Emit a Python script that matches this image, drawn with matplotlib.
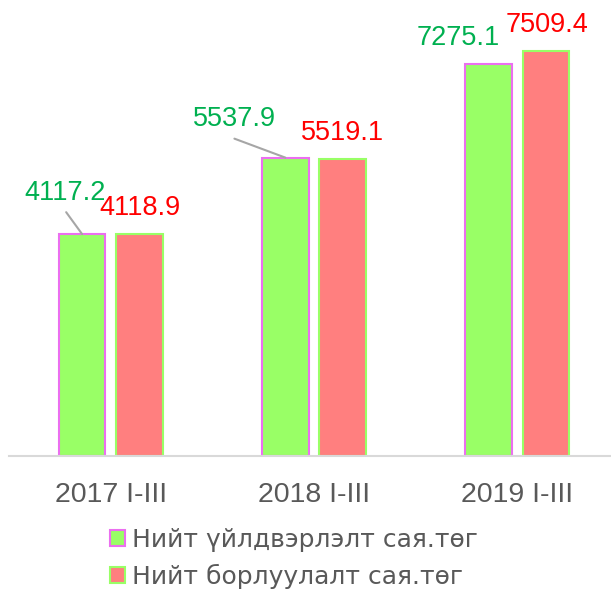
import numpy as np
import matplotlib.pyplot as plt
from matplotlib.patches import Patch

plt.rcParams['font.family'] = ['Liberation Sans', 'DejaVu Sans']

# data
categories = ['2017 I-III', '2018 I-III', '2019 I-III']
production = [4117.2, 5537.9, 7275.1]
sales = [4118.9, 5519.1, 7509.4]
series_names = ['Нийт үйлдвэрлэлт сая.төг', 'Нийт борлуулалт сая.төг']

# label offsets in pixels (dx, dy) from bar top, as Excel left them
prod_off = [(-17, 41), (-51, 39), (-30, 26)]
sales_off = [(0, 26), (0, 26), (1, 26)]
# leader line starts (only where label was dragged away)
leader_off = [(-16, 22), (-51, 19), None]

px = 0.72  # points per pixel at dpi 100

fig = plt.figure(figsize=(6.11, 5.9), dpi=100)
ax = fig.add_axes([9/611, 134/590, 602/611, 431/590])

x = np.arange(len(categories))
w = 0.229
b1 = ax.bar(x - 0.142, production, w, color='#99FF66', edgecolor='#EB6FF0', linewidth=1.5, zorder=2)
b2 = ax.bar(x + 0.14, sales, w, color='#FF7F7F', edgecolor='#99FF66', linewidth=1.5, zorder=2)

for i in range(len(categories)):
    xp = x[i] - 0.142
    ax.annotate(f'{production[i]:.1f}', xy=(xp, production[i]),
                xytext=(prod_off[i][0]*px, prod_off[i][1]*px), textcoords='offset points',
                ha='center', va='center', fontsize=19.5, color='#00B050')
    if leader_off[i] is not None:
        ax.annotate('', xy=(xp, production[i]),
                    xytext=(leader_off[i][0]*px, leader_off[i][1]*px), textcoords='offset points',
                    arrowprops=dict(arrowstyle='-', color='#A6A6A6', lw=1.5, shrinkA=0, shrinkB=0))
    xs = x[i] + 0.14
    ax.annotate(f'{sales[i]:.1f}', xy=(xs, sales[i]),
                xytext=(sales_off[i][0]*px, sales_off[i][1]*px), textcoords='offset points',
                ha='center', va='center', fontsize=19.5, color='#FF0000')

ax.set_xlim(-0.502, 2.46)
ax.set_ylim(0, 8000)
for s in ['top', 'right', 'left']:
    ax.spines[s].set_visible(False)
ax.spines['bottom'].set_color('#D9D9D9')
ax.spines['bottom'].set_linewidth(1.5)
ax.set_yticks([])
ax.set_xticks(x)
ax.set_xticklabels(categories, fontsize=20.5, color='#595959')
ax.tick_params(axis='x', length=0, pad=19)

handles = [Patch(facecolor='#99FF66', edgecolor='#EB6FF0', linewidth=1.5),
           Patch(facecolor='#FF7F7F', edgecolor='#99FF66', linewidth=1.5)]
leg = fig.legend(handles, series_names, loc='upper left', bbox_to_anchor=(110/611, 1 - 528/590),
                 frameon=False, handlelength=0.6, handleheight=0.6,
                 handletextpad=0.3, labelspacing=0.48, borderpad=0, borderaxespad=0,
                 prop={'family': 'DejaVu Sans', 'size': 18})
for t in leg.get_texts():
    t.set_color('#595959')

fig.savefig('out.png', dpi=100)
